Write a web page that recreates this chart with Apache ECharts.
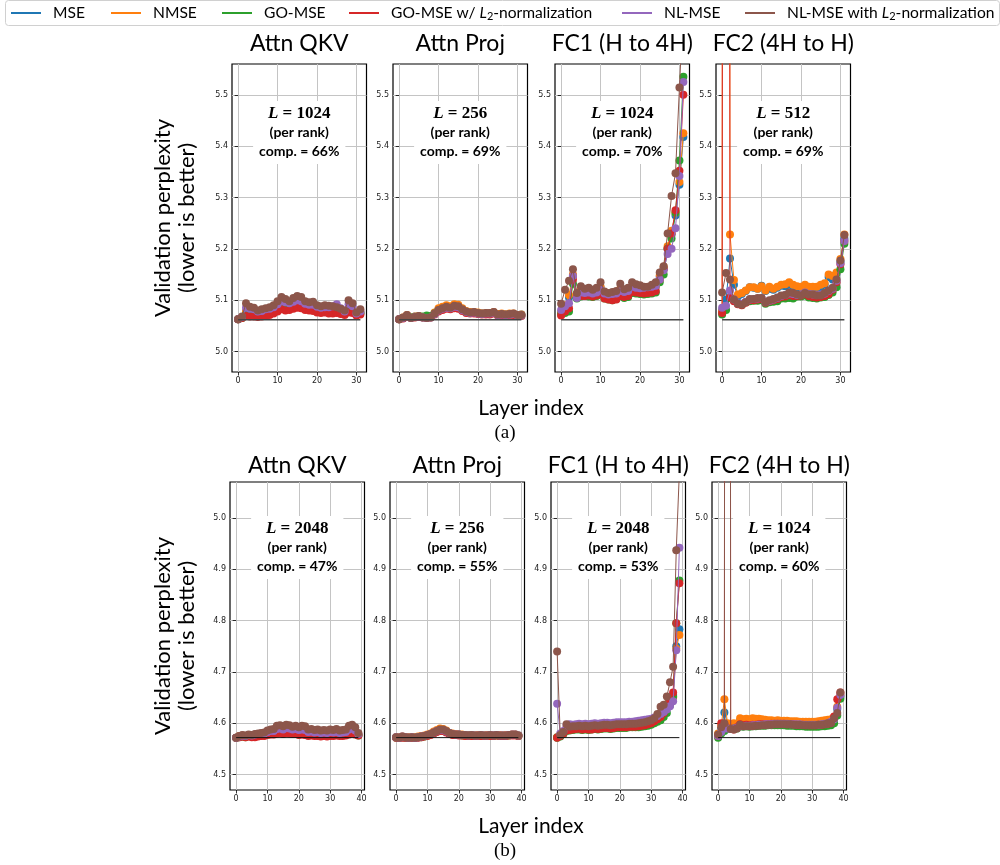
<!DOCTYPE html>
<html><head><meta charset="utf-8">
<script src="https://cdn.jsdelivr.net/npm/echarts@6/dist/echarts.min.js"></script>
<style>html,body{margin:0;padding:0;background:#fff}#c{width:1000px;height:865px}</style>
</head><body><div id="c"></div>
<script>
// ---------------- DATA ----------------
const seriesNames = ['MSE','NMSE','GO-MSE','GO-MSE w/ L2-normalization','NL-MSE','NL-MSE with L2-normalization'];
const panelTitles = ['Attn QKV','Attn Proj','FC1 (H to 4H)','FC2 (4H to H)'];
const topRankL = ['1024','256','1024','512'];
const topComp = ['66%','69%','70%','69%'];
const botRankL = ['2048','256','2048','1024'];
const botComp = ['47%','55%','53%','60%'];
const topTicksX = [0,10,20,30];
const botTicksX = [0,10,20,30,40];
const topTicksY = [5.0,5.1,5.2,5.3,5.4,5.5];
const botTicksY = [4.5,4.6,4.7,4.8,4.9,5.0];
const topBaseline = 5.062;
const botBaseline = 4.572;

// (a) Attn QKV, layers 0..31
const a1_mse  = [5.063,5.066,5.077,5.075,5.074,5.072,5.073,5.074,5.076,5.079,5.083,5.089,5.087,5.087,5.088,5.090,5.088,5.085,5.084,5.083,5.080,5.079,5.081,5.080,5.080,5.081,5.078,5.075,5.083,5.081,5.072,5.076];
const a1_nmse = [5.063,5.066,5.078,5.076,5.074,5.073,5.074,5.075,5.077,5.080,5.084,5.090,5.088,5.088,5.089,5.091,5.089,5.086,5.085,5.083,5.081,5.080,5.081,5.080,5.081,5.082,5.078,5.076,5.084,5.082,5.073,5.077];
const a1_go   = [5.063,5.065,5.072,5.070,5.070,5.069,5.070,5.071,5.073,5.076,5.080,5.085,5.083,5.084,5.085,5.087,5.086,5.083,5.082,5.081,5.078,5.077,5.078,5.076,5.076,5.077,5.075,5.073,5.078,5.077,5.071,5.074];
const a1_gol2 = [5.063,5.065,5.069,5.068,5.068,5.067,5.068,5.069,5.071,5.074,5.078,5.082,5.080,5.081,5.083,5.085,5.084,5.081,5.080,5.079,5.076,5.075,5.076,5.074,5.074,5.075,5.073,5.071,5.076,5.075,5.070,5.072];
const a1_nl   = [5.063,5.067,5.085,5.083,5.082,5.078,5.079,5.082,5.083,5.086,5.092,5.098,5.096,5.094,5.097,5.100,5.098,5.093,5.091,5.091,5.087,5.085,5.086,5.086,5.088,5.092,5.084,5.078,5.092,5.088,5.074,5.078];
const a1_nll2 = [5.063,5.068,5.094,5.087,5.085,5.080,5.082,5.084,5.086,5.090,5.098,5.106,5.102,5.098,5.104,5.108,5.106,5.098,5.096,5.097,5.090,5.088,5.090,5.089,5.088,5.086,5.083,5.080,5.100,5.094,5.076,5.082];

// (a) Attn Proj
const a2_mse  = [5.063,5.065,5.070,5.066,5.068,5.068,5.067,5.066,5.067,5.075,5.082,5.085,5.087,5.086,5.090,5.089,5.083,5.078,5.076,5.076,5.075,5.074,5.074,5.075,5.076,5.073,5.073,5.072,5.073,5.073,5.071,5.072];
const a2_nmse = [5.063,5.066,5.071,5.066,5.068,5.069,5.067,5.066,5.067,5.076,5.084,5.087,5.090,5.088,5.092,5.091,5.084,5.079,5.077,5.077,5.076,5.074,5.075,5.075,5.077,5.073,5.074,5.072,5.074,5.074,5.071,5.072];
const a2_go   = [5.063,5.065,5.069,5.066,5.067,5.068,5.068,5.070,5.069,5.074,5.080,5.083,5.085,5.084,5.087,5.086,5.081,5.077,5.075,5.075,5.074,5.073,5.073,5.073,5.075,5.071,5.072,5.070,5.072,5.072,5.069,5.070];
const a2_gol2 = [5.063,5.064,5.068,5.065,5.066,5.067,5.066,5.065,5.066,5.072,5.078,5.081,5.083,5.082,5.084,5.083,5.079,5.075,5.074,5.074,5.073,5.072,5.072,5.072,5.074,5.070,5.071,5.069,5.071,5.071,5.069,5.069];
const a2_nl   = [5.063,5.065,5.070,5.065,5.067,5.068,5.066,5.065,5.066,5.073,5.080,5.083,5.085,5.084,5.087,5.086,5.081,5.077,5.075,5.076,5.074,5.073,5.074,5.074,5.076,5.071,5.072,5.071,5.072,5.073,5.070,5.070];
const a2_nll2 = [5.063,5.066,5.071,5.065,5.067,5.069,5.066,5.065,5.066,5.074,5.081,5.084,5.087,5.085,5.089,5.088,5.082,5.078,5.076,5.077,5.075,5.074,5.075,5.075,5.077,5.072,5.073,5.072,5.073,5.074,5.071,5.071];

// (a) FC1
const a3_mse  = [5.076,5.088,5.105,5.148,5.110,5.118,5.116,5.117,5.115,5.117,5.124,5.112,5.110,5.110,5.111,5.120,5.114,5.116,5.125,5.122,5.120,5.119,5.120,5.121,5.126,5.145,5.162,5.200,5.228,5.265,5.325,5.418];
const a3_nmse = [5.076,5.090,5.110,5.150,5.112,5.120,5.118,5.118,5.116,5.118,5.126,5.113,5.111,5.111,5.112,5.122,5.115,5.117,5.126,5.123,5.121,5.120,5.121,5.122,5.127,5.148,5.165,5.205,5.235,5.270,5.330,5.425];
const a3_go   = [5.072,5.075,5.078,5.132,5.103,5.107,5.108,5.107,5.106,5.108,5.112,5.103,5.101,5.100,5.102,5.108,5.104,5.106,5.114,5.113,5.112,5.111,5.112,5.113,5.115,5.135,5.150,5.200,5.220,5.270,5.372,5.535];
const a3_gol2 = [5.070,5.078,5.084,5.140,5.105,5.108,5.108,5.109,5.107,5.109,5.112,5.103,5.101,5.100,5.101,5.108,5.106,5.108,5.116,5.115,5.114,5.113,5.114,5.115,5.118,5.140,5.160,5.200,5.230,5.275,5.352,5.500];
const a3_nl   = [5.081,5.088,5.094,5.147,5.104,5.115,5.114,5.115,5.113,5.115,5.120,5.113,5.111,5.112,5.113,5.118,5.116,5.118,5.126,5.124,5.123,5.124,5.125,5.126,5.128,5.140,5.158,5.190,5.200,5.240,5.342,5.525];
const a3_nll2 = [5.093,5.120,5.138,5.160,5.114,5.127,5.122,5.124,5.120,5.124,5.135,5.117,5.114,5.116,5.118,5.132,5.121,5.124,5.135,5.131,5.129,5.126,5.126,5.130,5.135,5.154,5.166,5.230,5.303,5.347,5.514,5.680];

// (a) FC2
const a4_mse  = [5.080,5.101,5.181,5.130,5.107,5.112,5.118,5.125,5.124,5.122,5.128,5.118,5.122,5.120,5.124,5.128,5.127,5.130,5.127,5.124,5.125,5.126,5.124,5.123,5.122,5.125,5.130,5.145,5.140,5.152,5.175,5.220];
const a4_nmse = [5.078,15.00,5.228,5.139,5.111,5.114,5.119,5.125,5.125,5.122,5.127,5.119,5.126,5.122,5.126,5.130,5.131,5.135,5.130,5.127,5.126,5.130,5.126,5.126,5.126,5.130,5.133,5.150,5.147,5.154,5.180,5.228];
const a4_go   = [5.072,5.081,5.104,5.099,5.093,5.091,5.096,5.098,5.099,5.099,5.100,5.093,5.096,5.097,5.098,5.103,5.103,5.104,5.103,5.107,5.107,5.109,5.105,5.104,5.103,5.105,5.106,5.110,5.115,5.125,5.160,5.210];
const a4_gol2 = [5.075,15.00,5.105,5.098,5.092,5.090,5.095,5.100,5.100,5.101,5.102,5.095,5.098,5.100,5.102,5.106,5.107,5.110,5.108,5.108,5.109,5.112,5.108,5.106,5.105,5.106,5.108,5.112,5.120,5.135,5.170,5.215];
const a4_nl   = [5.085,5.089,5.119,5.101,5.094,5.093,5.097,5.101,5.102,5.103,5.104,5.096,5.099,5.101,5.104,5.108,5.110,5.113,5.112,5.110,5.111,5.115,5.112,5.111,5.110,5.111,5.113,5.118,5.122,5.138,5.172,5.215];
const a4_nll2 = [5.115,5.153,5.140,5.101,5.093,5.091,5.096,5.102,5.102,5.104,5.104,5.096,5.100,5.102,5.105,5.109,5.110,5.115,5.114,5.111,5.109,5.114,5.111,5.111,5.109,5.109,5.114,5.119,5.124,5.140,5.177,5.227];

// (b) Attn QKV, layers 0..39
const b1_mse  = [4.572,4.574,4.575,4.574,4.576,4.575,4.576,4.577,4.578,4.578,4.580,4.582,4.582,4.585,4.586,4.584,4.586,4.585,4.584,4.584,4.582,4.583,4.582,4.579,4.580,4.578,4.579,4.578,4.578,4.577,4.579,4.578,4.579,4.578,4.578,4.579,4.582,4.584,4.581,4.577];
const b1_nmse = [4.572,4.575,4.576,4.575,4.577,4.576,4.577,4.578,4.579,4.579,4.581,4.583,4.583,4.586,4.587,4.585,4.587,4.586,4.585,4.585,4.583,4.584,4.583,4.580,4.581,4.579,4.580,4.579,4.579,4.578,4.580,4.579,4.580,4.579,4.579,4.580,4.583,4.585,4.582,4.578];
const b1_go   = [4.572,4.573,4.574,4.573,4.575,4.574,4.575,4.576,4.577,4.577,4.579,4.581,4.581,4.584,4.585,4.583,4.585,4.584,4.583,4.583,4.581,4.582,4.581,4.578,4.579,4.577,4.578,4.577,4.577,4.576,4.578,4.577,4.578,4.577,4.577,4.578,4.581,4.583,4.580,4.576];
const b1_gol2 = [4.572,4.573,4.574,4.573,4.574,4.573,4.573,4.574,4.575,4.575,4.577,4.578,4.578,4.580,4.581,4.579,4.581,4.580,4.579,4.579,4.577,4.578,4.577,4.575,4.576,4.575,4.575,4.574,4.575,4.574,4.575,4.575,4.576,4.575,4.575,4.576,4.578,4.583,4.578,4.576];
const b1_nl   = [4.572,4.574,4.576,4.575,4.577,4.576,4.578,4.579,4.580,4.580,4.583,4.585,4.585,4.589,4.590,4.588,4.591,4.590,4.588,4.589,4.587,4.588,4.587,4.583,4.584,4.582,4.583,4.581,4.582,4.581,4.583,4.582,4.583,4.581,4.582,4.583,4.588,4.591,4.586,4.579];
const b1_nll2 = [4.572,4.575,4.577,4.576,4.578,4.577,4.579,4.580,4.581,4.582,4.586,4.588,4.589,4.595,4.596,4.594,4.597,4.596,4.593,4.595,4.592,4.595,4.594,4.588,4.589,4.587,4.588,4.586,4.587,4.586,4.588,4.587,4.589,4.586,4.587,4.588,4.595,4.597,4.592,4.581];

// (b) Attn Proj
const b2_mse  = [4.573,4.572,4.573,4.573,4.572,4.573,4.572,4.573,4.574,4.575,4.577,4.579,4.582,4.585,4.587,4.587,4.584,4.580,4.579,4.578,4.578,4.577,4.577,4.576,4.577,4.576,4.576,4.576,4.576,4.576,4.576,4.576,4.577,4.576,4.576,4.576,4.577,4.577,4.577,4.576];
const b2_nmse = [4.573,4.573,4.574,4.573,4.573,4.573,4.573,4.574,4.575,4.576,4.578,4.580,4.584,4.587,4.590,4.589,4.586,4.581,4.580,4.579,4.578,4.578,4.577,4.577,4.577,4.576,4.577,4.577,4.576,4.577,4.577,4.576,4.577,4.577,4.576,4.577,4.577,4.578,4.578,4.576];
const b2_go   = [4.572,4.572,4.573,4.572,4.572,4.572,4.572,4.573,4.573,4.574,4.576,4.578,4.581,4.584,4.586,4.586,4.583,4.580,4.578,4.577,4.577,4.576,4.576,4.576,4.576,4.575,4.575,4.576,4.575,4.575,4.576,4.575,4.576,4.575,4.575,4.575,4.576,4.577,4.577,4.575];
const b2_gol2 = [4.572,4.572,4.572,4.572,4.572,4.572,4.572,4.572,4.573,4.574,4.575,4.577,4.580,4.583,4.585,4.585,4.582,4.579,4.577,4.577,4.576,4.576,4.575,4.575,4.575,4.575,4.575,4.575,4.575,4.575,4.575,4.575,4.576,4.575,4.575,4.575,4.576,4.576,4.576,4.575];
const b2_nl   = [4.573,4.572,4.574,4.573,4.572,4.573,4.572,4.573,4.574,4.575,4.577,4.579,4.582,4.585,4.587,4.587,4.584,4.581,4.579,4.578,4.578,4.577,4.577,4.576,4.577,4.576,4.576,4.577,4.576,4.576,4.577,4.576,4.577,4.576,4.576,4.576,4.577,4.578,4.578,4.576];
const b2_nll2 = [4.573,4.572,4.574,4.573,4.572,4.573,4.572,4.573,4.574,4.575,4.577,4.579,4.582,4.585,4.588,4.588,4.585,4.581,4.579,4.578,4.578,4.577,4.577,4.576,4.577,4.576,4.576,4.577,4.576,4.576,4.577,4.576,4.577,4.576,4.576,4.576,4.577,4.578,4.578,4.576];

// (b) FC1
const b3_mse  = [4.573,4.576,4.582,4.590,4.589,4.590,4.591,4.592,4.591,4.592,4.591,4.592,4.593,4.592,4.593,4.594,4.594,4.593,4.594,4.595,4.595,4.595,4.595,4.596,4.596,4.596,4.597,4.598,4.599,4.600,4.602,4.606,4.610,4.615,4.622,4.630,4.640,4.655,4.750,4.783];
const b3_nmse = [4.573,4.577,4.583,4.591,4.590,4.591,4.592,4.593,4.592,4.593,4.592,4.593,4.594,4.593,4.594,4.595,4.595,4.594,4.595,4.596,4.596,4.596,4.596,4.597,4.597,4.597,4.598,4.599,4.600,4.602,4.605,4.610,4.615,4.620,4.630,4.637,4.642,4.650,4.745,4.772];
const b3_go   = [4.572,4.574,4.579,4.585,4.586,4.587,4.588,4.588,4.587,4.588,4.587,4.588,4.589,4.588,4.589,4.590,4.590,4.589,4.590,4.591,4.591,4.591,4.591,4.592,4.592,4.592,4.592,4.593,4.594,4.595,4.597,4.600,4.603,4.606,4.612,4.620,4.635,4.652,4.795,4.878];
const b3_gol2 = [4.572,4.575,4.580,4.586,4.587,4.588,4.589,4.590,4.588,4.589,4.588,4.588,4.590,4.589,4.590,4.591,4.591,4.590,4.591,4.592,4.592,4.592,4.592,4.593,4.593,4.593,4.594,4.595,4.596,4.598,4.600,4.604,4.608,4.612,4.620,4.630,4.645,4.660,4.795,4.873];
const b3_nl   = [4.638,4.580,4.585,4.595,4.598,4.597,4.598,4.599,4.598,4.599,4.598,4.599,4.600,4.599,4.600,4.601,4.601,4.600,4.601,4.602,4.602,4.602,4.602,4.603,4.603,4.604,4.605,4.606,4.607,4.608,4.609,4.611,4.614,4.618,4.622,4.627,4.633,4.643,4.742,4.942];
const b3_nll2 = [4.740,4.577,4.583,4.598,4.593,4.594,4.594,4.595,4.594,4.595,4.594,4.595,4.596,4.595,4.596,4.597,4.597,4.596,4.597,4.598,4.598,4.598,4.598,4.599,4.599,4.599,4.600,4.601,4.602,4.604,4.606,4.610,4.618,4.632,4.636,4.652,4.680,4.710,4.937,5.090];

// (b) FC2
const b4_mse  = [4.578,4.590,4.621,4.598,4.596,4.597,4.596,4.604,4.603,4.604,4.603,4.605,4.604,4.605,4.604,4.604,4.603,4.603,4.602,4.603,4.603,4.602,4.603,4.602,4.602,4.601,4.601,4.601,4.600,4.600,4.600,4.600,4.601,4.602,4.603,4.604,4.605,4.608,4.628,4.652];
const b4_nmse = [4.580,4.595,4.647,4.600,4.598,4.600,4.598,4.610,4.608,4.609,4.608,4.610,4.609,4.609,4.608,4.607,4.606,4.606,4.605,4.606,4.605,4.605,4.605,4.604,4.604,4.604,4.603,4.603,4.603,4.603,4.603,4.603,4.604,4.605,4.606,4.607,4.608,4.612,4.632,4.655];
const b4_go   = [4.572,4.580,4.585,4.590,4.589,4.590,4.590,4.594,4.593,4.594,4.593,4.594,4.594,4.595,4.595,4.595,4.596,4.596,4.596,4.596,4.596,4.596,4.595,4.595,4.595,4.594,4.594,4.594,4.593,4.593,4.593,4.593,4.593,4.594,4.594,4.595,4.596,4.600,4.615,4.648];
const b4_gol2 = [4.575,4.600,4.598,15.00,4.590,4.588,4.592,4.598,4.596,4.597,4.596,4.597,4.597,4.598,4.598,4.598,4.598,4.599,4.599,4.599,4.599,4.599,4.598,4.598,4.598,4.597,4.597,4.597,4.596,4.596,4.596,4.596,4.597,4.597,4.598,4.599,4.602,4.613,4.647,4.660];
const b4_nl   = [4.575,4.583,4.590,4.590,4.589,4.590,4.591,4.595,4.594,4.595,4.595,4.596,4.596,4.597,4.597,4.598,4.598,4.598,4.599,4.599,4.599,4.599,4.599,4.598,4.598,4.598,4.598,4.597,4.597,4.597,4.597,4.597,4.597,4.598,4.599,4.600,4.603,4.608,4.630,4.655];
const b4_nll2 = [4.578,4.592,4.600,15.00,4.589,4.588,4.590,4.597,4.594,4.594,4.594,4.594,4.595,4.595,4.596,4.596,4.597,4.597,4.598,4.598,4.598,4.598,4.598,4.598,4.597,4.597,4.597,4.596,4.596,4.596,4.596,4.596,4.597,4.597,4.598,4.600,4.600,4.610,4.620,4.660];

// ---------------- LAYOUT / STYLE ----------------
const colors = ['#1f77b4','#ff7f0e','#2ca02c','#d62728','#9467bd','#8c564b'];
const panelData = [
  [a1_mse,a1_nmse,a1_go,a1_gol2,a1_nl,a1_nll2],
  [a2_mse,a2_nmse,a2_go,a2_gol2,a2_nl,a2_nll2],
  [a3_mse,a3_nmse,a3_go,a3_gol2,a3_nl,a3_nll2],
  [a4_mse,a4_nmse,a4_go,a4_gol2,a4_nl,a4_nll2],
  [b1_mse,b1_nmse,b1_go,b1_gol2,b1_nl,b1_nll2],
  [b2_mse,b2_nmse,b2_go,b2_gol2,b2_nl,b2_nll2],
  [b3_mse,b3_nmse,b3_go,b3_gol2,b3_nl,b3_nll2],
  [b4_mse,b4_nmse,b4_go,b4_gol2,b4_nl,b4_nll2]
];
const topLefts = [232, 393, 555, 716];
const botLefts = [230, 390, 551, 712];
const PW = 134.5, PH = 308, TOP1 = 64, TOP2 = 482;
const sansFont = 'Lato';
const tickFont = 'DejaVu Sans';

const grids = [], xAxes = [], yAxes = [], series = [], graphics = [];
for (let p = 0; p < 8; p++) {
  const isTop = p < 4;
  const col = p % 4;
  const left = isTop ? topLefts[col] : botLefts[col];
  const top = isTop ? TOP1 : TOP2;
  const n = panelData[p][0].length;
  grids.push({left: left, top: top, width: PW, height: PH, show: true, borderColor: '#000', borderWidth: 1.2, backgroundColor: 'transparent', outerBoundsMode: 'none', containLabel: false});
  const xt = isTop ? topTicksX : botTicksX;
  const yt = isTop ? topTicksY : botTicksY;
  const xm = (n - 1) * 0.05;
  xAxes.push({type: 'value', gridIndex: p, min: -xm, max: (n - 1) + xm,
    axisLine: {show: false},
    axisTick: {show: true, length: 3.5, customValues: xt, lineStyle: {color: '#000', width: 0.8}},
    axisLabel: {customValues: xt, fontFamily: tickFont, fontSize: 8, color: '#222', margin: 5, formatter: v => String(v)},
    splitLine: {show: true, lineStyle: {color: '#c4c4c4', width: 1}}
  });
  const ymin = isTop ? 4.96 : 4.47;
  yAxes.push({type: 'value', gridIndex: p, min: ymin, max: ymin + 0.6,
    axisLine: {show: false},
    axisTick: {show: true, length: 3.5, customValues: yt, lineStyle: {color: '#000', width: 0.8}},
    axisLabel: {customValues: yt, fontFamily: tickFont, fontSize: 8, color: '#222', margin: 4, formatter: v => v.toFixed(1)},
    splitLine: {show: true, lineStyle: {color: '#c4c4c4', width: 1}}
  });
  for (let k = 0; k < 6; k++) {
    series.push({
      type: 'line', name: seriesNames[k], xAxisIndex: p, yAxisIndex: p,
      data: panelData[p][k].map((v, i) => [i, v]),
      symbol: 'circle', symbolSize: 8, showSymbol: true,
      itemStyle: {color: colors[k], borderWidth: 0},
      lineStyle: {color: colors[k], width: 1},
      clip: true, animation: false, z: 2 + k * 0.01
    });
  }
  const base = isTop ? topBaseline : botBaseline;
  series.push({
    type: 'line', name: 'baseline', xAxisIndex: p, yAxisIndex: p,
    data: [[0, base], [n - 1, base]], showSymbol: false, symbol: 'none',
    lineStyle: {color: isTop ? '#444' : '#111', width: isTop ? 1.5 : 1},
    animation: false, silent: true, z: 3
  });
  // panel title
  const cx = left + PW / 2;
  graphics.push({type: 'text', x: cx, y: isTop ? 44 : 466, z: 10,
    style: {text: panelTitles[col], font: '23px ' + sansFont, fill: '#000', align: 'center', verticalAlign: 'middle', textAlign: 'center', textVerticalAlign: 'middle'}});
  // annotation
  const Lval = isTop ? topRankL[col] : botRankL[col];
  const comp = isTop ? topComp[col] : botComp[col];
  graphics.push({type: 'text', x: cx, y: isTop ? 101 : 516, z: 20,
    style: {
      text: '{mi|L}{mu| = ' + Lval + '}\n{b|(per rank)}\n{b|comp. = ' + comp + '}',
      align: 'center', verticalAlign: 'top', textAlign: 'center', textVerticalAlign: 'top',
      backgroundColor: '#fff', padding: [3, 6, 3, 6], fill: '#000',
      rich: {
        mi: {fontFamily: 'Liberation Serif', fontWeight: 'bold', fontStyle: 'italic', fontSize: 17, lineHeight: 19},
        mu: {fontFamily: 'Liberation Serif', fontWeight: 'bold', fontSize: 17, lineHeight: 19},
        b: {fontFamily: sansFont, fontWeight: 'bold', fontSize: 14, lineHeight: 19}
      }
    }});
}

// shared axis titles and captions
function rotLabel(yc) {
  return {type: 'text', x: 175, y: yc, rotation: Math.PI / 2, z: 10,
    style: {text: 'Validation perplexity\n(lower is better)', font: '22px ' + sansFont, lineHeight: 24, fill: '#000',
      align: 'center', verticalAlign: 'middle', textAlign: 'center', textVerticalAlign: 'middle'}};
}
graphics.push(rotLabel(218));
graphics.push(rotLabel(636));
function cap(text, x, y, font) {
  return {type: 'text', x: x, y: y, z: 10, style: {text: text, font: font, fill: '#000', align: 'center', verticalAlign: 'middle', textAlign: 'center', textVerticalAlign: 'middle'}};
}
graphics.push(cap('Layer index', 531, 408, '21px ' + sansFont));
graphics.push(cap('(a)', 505, 433, '19px "Liberation Serif"'));
graphics.push(cap('Layer index', 531, 826, '21px ' + sansFont));
graphics.push(cap('(b)', 505, 851, '19px "Liberation Serif"'));
// legend frame
graphics.push({type: 'rect', shape: {x: 5.5, y: 0.5, width: 994, height: 25, r: 3}, z: 0,
  style: {fill: '#fff', stroke: '#d0d0d0', lineWidth: 1}});

// legends
const legendLefts = [11, 111, 222, 349, 622, 745];
const legends = seriesNames.map((nm, k) => ({
  data: [nm], left: legendLefts[k], top: 5, orient: 'horizontal',
  icon: 'rect', itemWidth: 30, itemHeight: 2, padding: 0,
  textStyle: {fontFamily: sansFont, fontSize: 15.6, color: '#000', padding: [0, 0, 0, 7],
    rich: {
      n: {fontFamily: sansFont, fontSize: 15.6, color: '#000'},
      i: {fontFamily: sansFont, fontSize: 15.6, fontStyle: 'italic', color: '#000'},
      s: {fontFamily: sansFont, fontSize: 11, color: '#000', padding: [7, 0, 0, 0]}
    }},
  formatter: name => {
    const idx = name.indexOf('L2');
    if (idx < 0) return name;
    return '{n|' + name.slice(0, idx) + '}{i|L}{s|2}{n|' + name.slice(idx + 2) + '}';
  },
  selectedMode: false
}));

const chart = echarts.init(document.getElementById('c'), null, {renderer: 'canvas'});
chart.setOption({
  animation: false,
  backgroundColor: '#fff',
  color: colors,
  legend: legends,
  grid: grids, xAxis: xAxes, yAxis: yAxes, series: series,
  graphic: graphics
});
</script></body></html>
